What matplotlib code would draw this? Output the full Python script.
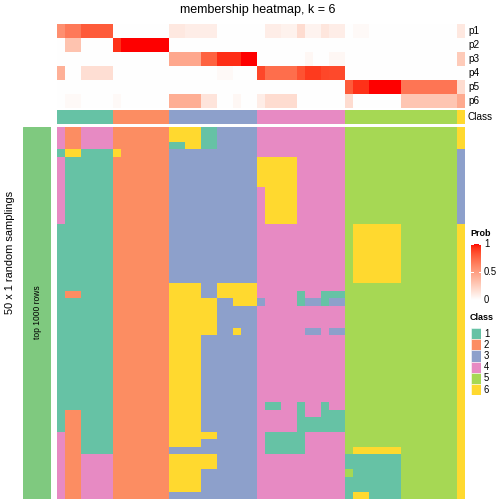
import numpy as np
import matplotlib
matplotlib.use("Agg")
import matplotlib.pyplot as plt
from matplotlib.colors import ListedColormap
from matplotlib.patches import Rectangle

plt.rcParams['font.family'] = ['Liberation Sans', 'DejaVu Sans']

# ---- data ----
class_colors = ['#66C2A5', '#FC8D62', '#8DA0CB', '#E78AC3', '#A6D854', '#FFD92F']
class_labels = ['1', '2', '3', '4', '5', '6']
prob_labels = ['p1', 'p2', 'p3', 'p4', 'p5', 'p6']

# consensus class of each of the 51 samples (columns)
sample_class = [1]*7 + [2]*7 + [3]*11 + [4]*11 + [5]*14 + [6]

# membership probabilities per sample
p1 = [.57] + [.67]*2 + [.80]*4 + [0]*7 + [.12]*2 + [.09]*4 + [0]*6 + [.09]*2 + [.07]*2 \
     + [.18] + [.06]*2 + [.13] + [.09]*2 + [0] + [.03]*2 + [0]*11 + [.12]
p2 = [0] + [.31]*2 + [0]*4 + [.93] + [1.0]*6 + [0]*37
p3 = [0]*14 + [.45]*4 + [.77]*2 + [.94]*3 + [1.0]*2 + [0]*6 + [.04] + [0]*2 + [.04]*2 \
     + [0]*14 + [.27]
p4 = [.41] + [0]*2 + [.17]*4 + [0]*13 + [.03]*2 + [0]*3 + [.87] + [.72]*4 + [.83] \
     + [.91]*2 + [.87] + [.86]*2 + [0]*15
p5 = [0]*36 + [.80] + [.93]*2 + [1.0]*4 + [.69]*7 + [.18]
p6 = [0] + [.03]*2 + [0]*4 + [.03] + [0]*6 + [.42]*4 + [.14]*2 + [0]*2 + [.04] + [0]*2 \
     + [.09] + [.18]*4 + [0]*6 + [.18] + [0]*6 + [.30]*7 + [.44]

# class of each random sampling (50 rows), given per column as
# (columns, base class, [(class, first row, last row), ...])
n_rows, n_cols = 50, 51
col_runs = [
    ([0], 4, [(1, 3, 3), (1, 13, 40)]),
    ([1, 2], 1, [(2, 0, 2), (6, 3, 3), (2, 22, 22), (2, 38, 49)]),
    ([3, 4, 5, 6], 1, [(4, 0, 2), (4, 44, 49)]),
    ([7], 2, [(6, 3, 3)]),
    ([8, 9, 10, 11, 12, 13], 2, []),
    ([14, 15], 6, [(1, 2, 2), (3, 3, 20), (3, 43, 43), (3, 49, 49)]),
    ([16, 17], 6, [(3, 3, 20), (3, 43, 43), (3, 49, 49)]),
    ([18, 19], 3, [(1, 0, 2), (6, 23, 27), (6, 41, 41), (6, 44, 45)]),
    ([20, 21], 3, [(6, 21, 22)]),
    ([22], 3, [(6, 21, 23), (6, 27, 27)]),
    ([23, 24], 3, [(6, 21, 23)]),
    ([25], 4, [(6, 4, 7), (3, 23, 23)]),
    ([26, 27], 4, [(6, 4, 12), (1, 37, 37), (1, 41, 43)]),
    ([28, 29], 4, [(6, 4, 12), (1, 41, 43)]),
    ([30], 4, [(1, 22, 23), (1, 37, 43)]),
    ([31, 32], 4, [(3, 23, 23), (3, 27, 27), (1, 39, 40)]),
    ([33], 4, [(1, 22, 23), (1, 37, 40)]),
    ([34, 35], 4, [(1, 22, 22), (3, 23, 23), (3, 27, 27), (1, 38, 40)]),
    ([36], 5, [(1, 44, 45), (1, 47, 49)]),
    ([37, 38], 5, [(6, 13, 20), (6, 43, 43), (1, 44, 48), (6, 49, 49)]),
    ([39, 40, 41, 42], 5, [(6, 13, 20), (6, 43, 43), (1, 44, 49)]),
    ([43, 44, 45, 46, 47, 48, 49], 5, []),
    ([50], 6, [(3, 3, 12)]),
]

membership = np.zeros((n_rows, n_cols), dtype=int)
for cols, base, runs in col_runs:
    for c in cols:
        membership[:, c] = base
        for k, r0, r1 in runs:
            membership[r0:r1 + 1, c] = k


def lab_to_rgb(L, a, b):
    # CIELAB (D65) -> sRGB, used for the white-red ramp
    fy = (L + 16) / 116
    fx = fy + a / 500
    fz = fy - b / 200
    def finv(t):
        return np.where(t > 6 / 29, t**3, 3 * (6 / 29)**2 * (t - 4 / 29))
    X, Y, Z = 0.95047 * finv(fx), finv(fy), 1.08883 * finv(fz)
    r = 3.2406 * X - 1.5372 * Y - 0.4986 * Z
    g = -0.9689 * X + 1.8758 * Y + 0.0415 * Z
    bb = 0.0557 * X - 0.2040 * Y + 1.0570 * Z
    rgb = np.clip(np.stack([r, g, bb], axis=-1), 0, 1)
    return np.where(rgb > 0.0031308, 1.055 * rgb**(1 / 2.4) - 0.055, 12.92 * rgb)


t = np.linspace(0, 1, 256)
prob_cmap = ListedColormap(lab_to_rgb(100 - t * (100 - 53.24), t * 80.09, t * 67.20))
class_cmap = ListedColormap(class_colors)

W = H = 504
fig = plt.figure(figsize=(7, 7), dpi=72)


def add_ax(x0, y0, x1, y1):
    ax = fig.add_axes([x0 / W, 1 - y1 / H, (x1 - x0) / W, (y1 - y0) / H])
    ax.set_axis_off()
    return ax


hx0, hx1 = 57, 465

# probability annotation
ax = add_ax(hx0, 24, hx1, 108)
ax.imshow(np.array([p1, p2, p3, p4, p5, p6]), cmap=prob_cmap, vmin=0, vmax=1,
          aspect='auto', interpolation='nearest')
for i, lab in enumerate(prob_labels):
    fig.text(468 / W, 1 - (31 + 14 * i) / H, lab, fontsize=10, va='center', ha='left')

# class annotation
ax = add_ax(hx0, 110, hx1, 124)
ax.imshow(np.array([sample_class]), cmap=class_cmap, vmin=0.5, vmax=6.5,
          aspect='auto', interpolation='nearest')
fig.text(468 / W, 1 - 117 / H, 'Class', fontsize=10, va='center', ha='left')

# main membership heatmap
ax = add_ax(hx0, 126.5, hx1, 498.5)
ax.imshow(membership, cmap=class_cmap, vmin=0.5, vmax=6.5,
          aspect='auto', interpolation='nearest')

# left row annotation
ax = add_ax(23, 126.5, 51, 498.5)
ax.add_patch(Rectangle((0, 0), 1, 1, color='#7FC97F'))
ax.set_xlim(0, 1)
ax.set_ylim(0, 1)
ax.text(0.5, 0.5, 'top 1000 rows', rotation=90, fontsize=8.5, ha='center', va='center')
fig.text(10 / W, 1 - 252 / H, '50 x 1 random samplings', rotation=90, fontsize=11,
         ha='center', va='center')

fig.text(258 / W, 1 - 10 / H, 'membership heatmap, k = 6', fontsize=12.5,
         ha='center', va='center')

# legend: probability colour bar
fig.text(470 / W, 1 - 233 / H, 'Prob', fontsize=9, fontweight='bold', va='center')
cb_top, cb_bot = 244, 300
ax = add_ax(471, cb_top, 481, cb_bot)
ax.imshow(np.linspace(1, 0, 200)[:, None], cmap=prob_cmap, vmin=0, vmax=1,
          aspect='auto', extent=(0, 1, 0, 1))
ax.set_xlim(0, 1)
ax.set_ylim(0, 1)
for v in [0, 0.5, 1]:
    ax.plot([0, 0.2], [v, v], color='white', lw=1)
    ax.plot([0.8, 1], [v, v], color='white', lw=1)
    y = cb_bot - v * (cb_bot - cb_top)
    fig.text(484 / W, 1 - y / H, f'{v:g}', fontsize=9.5, va='center')

# legend: class patches
fig.text(470 / W, 1 - 318 / H, 'Class', fontsize=9, fontweight='bold', va='center')
ax = add_ax(471, 328, 481, 395)
ax.set_xlim(0, 1)
ax.set_ylim(len(class_colors), 0)
for i, (col, lab) in enumerate(zip(class_colors, class_labels)):
    ax.add_patch(Rectangle((0, i), 1, 1, facecolor=col, edgecolor='white', lw=0.5))
    fig.text(484 / W, 1 - (328 + 11.2 * (i + 0.5)) / H, lab, fontsize=9.5, va='center')

fig.savefig('out.png', dpi=72)
